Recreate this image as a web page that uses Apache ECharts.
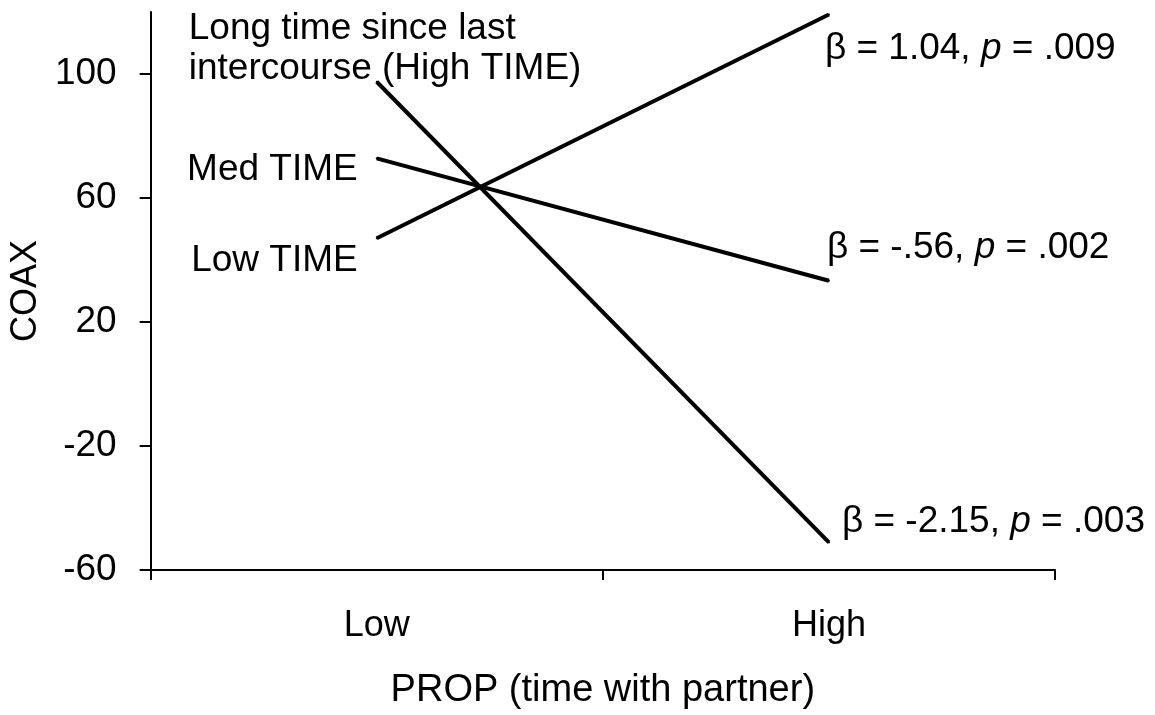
<!DOCTYPE html>
<html>
<head>
<meta charset="utf-8">
<script src="https://cdn.jsdelivr.net/npm/echarts@6/dist/echarts.min.js"></script>
<style>
html,body{margin:0;padding:0;background:#fff;}
#chart{width:1155px;height:715px;}
</style>
</head>
<body>
<div id="chart"></div>
<script>
// Data
const categories = ['Low', 'High'];
const lowTime = [47, 119.2];
const medTime = [72.8, 33.3];
const highTime = [97.5, -51.1];
const yTicks = [-60, -20, 20, 60, 100];
const startLabels = ['Low TIME', 'Med TIME', 'Long time since last\nintercourse (High TIME)'];
const endLabels = ['β = 1.04, {i|p} = .009', 'β = -.56, {i|p} = .002', 'β = -2.15, {i|p} = .003'];

const FONT = "'Liberation Sans', Arial, sans-serif";
const FS = 37;

function mkSeries(name, vals, startLbl, endLbl, startCfg, endCfg) {
  return {
    name: name,
    type: 'line',
    symbol: 'circle',
    symbolSize: 2,
    showSymbol: true,
    silent: true,
    lineStyle: { color: '#000', width: 4 },
    itemStyle: { color: '#000' },
    data: [
      { value: vals[0], label: Object.assign({ show: true, formatter: startLbl, color: '#000', fontFamily: FONT, fontSize: FS }, startCfg) },
      { value: vals[1], label: Object.assign({ show: true, formatter: endLbl, color: '#000', fontFamily: FONT, fontSize: FS,
          rich: { i: { fontStyle: 'italic', fontFamily: FONT, fontSize: FS, color: '#000' } } }, endCfg) }
    ]
  };
}

const chart = echarts.init(document.getElementById('chart'), null, { renderer: 'canvas' });
chart.setOption({
  animation: false,
  backgroundColor: '#fff',
  grid: { left: 144, right: 100, top: 12, bottom: 140, containLabel: false },
  xAxis: {
    type: 'category',
    data: categories,
    boundaryGap: true,
    name: 'PROP (time with partner)',
    nameLocation: 'middle',
    nameGap: 102,
    nameTextStyle: { color: '#000', fontFamily: FONT, fontSize: 38 },
    axisLine: { onZero: false, lineStyle: { color: '#000', width: 2 } },
    axisTick: { show: true, length: 10, lineStyle: { color: '#000', width: 2 } },
    axisLabel: { color: '#000', fontFamily: FONT, fontSize: 36, margin: 38 },
    splitLine: { show: false }
  },
  yAxis: {
    type: 'value',
    min: -60,
    max: 120,
    interval: 40,
    name: 'COAX',
    nameLocation: 'middle',
    nameGap: 98,
    nameRotate: 90,
    nameTextStyle: { color: '#000', fontFamily: FONT, fontSize: 36 },
    axisLine: { show: true, onZero: false, lineStyle: { color: '#000', width: 2 } },
    axisTick: { show: true, length: 11, customValues: yTicks, lineStyle: { color: '#000', width: 2 } },
    axisLabel: { color: '#000', fontFamily: FONT, fontSize: 37, margin: 34, customValues: yTicks },
    splitLine: { show: false }
  },
  series: [
    mkSeries('Low TIME', lowTime, startLabels[0], endLabels[0],
      { position: 'left', distance: 18, offset: [0, 22] },
      { position: 'right', distance: -5, offset: [0, 34] }),
    mkSeries('Med TIME', medTime, startLabels[1], endLabels[1],
      { position: 'left', distance: 18, offset: [0, 11] },
      { position: 'right', distance: -3, offset: [0, -33] }),
    mkSeries('High TIME', highTime, startLabels[2], endLabels[2],
      { position: 'left', align: 'left', distance: 187, lineHeight: 40, offset: [0, -33] },
      { position: 'right', distance: 12, offset: [0, -21] })
  ]
});
</script>
</body>
</html>
